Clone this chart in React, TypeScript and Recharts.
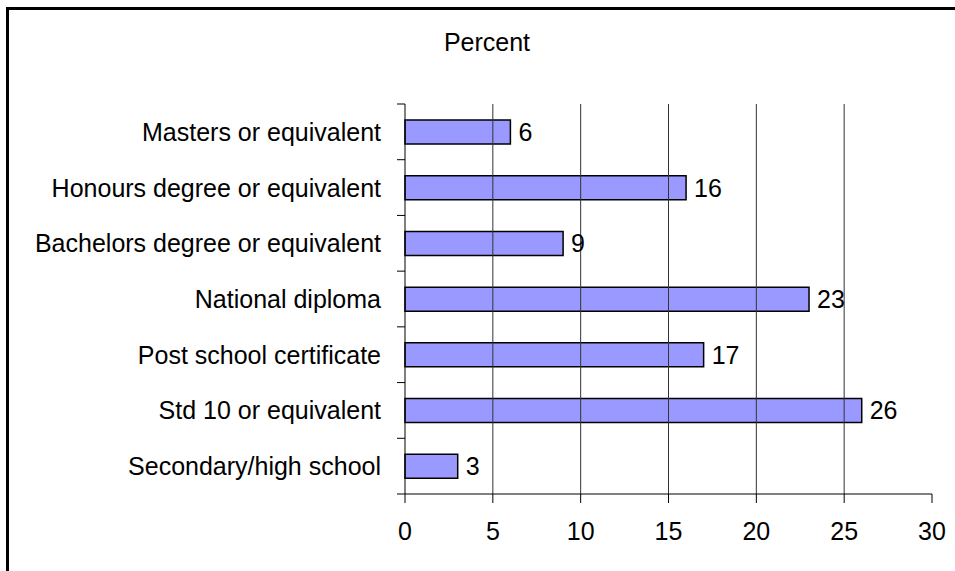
import { Bar, BarChart, LabelList, ReferenceLine, XAxis, YAxis } from "recharts";

const categories = [
  "Masters or equivalent",
  "Honours degree or equivalent",
  "Bachelors degree or equivalent",
  "National diploma",
  "Post school certificate",
  "Std 10 or equivalent",
  "Secondary/high school",
];
const percents = [6, 16, 9, 23, 17, 26, 3];
const xTicks = [0, 5, 10, 15, 20, 25, 30];
const gridTicks = [5, 10, 15, 20, 25];

const data = categories.map((name, i) => ({ name, value: percents[i] }));

const font = "'Liberation Sans', Arial, sans-serif";

function CategoryTick(props: any) {
  const { x, y, payload, index } = props;
  const half = payload?.offset || 27.86;
  const last = index === categories.length - 1;
  return (
    <g>
      <text x={x - 24} y={y} textAnchor="end" dominantBaseline="central" fontSize={25} fill="#000" fontFamily={font}>
        {payload.value}
      </text>
      <line x1={x - 8} x2={x} y1={y - half} y2={y - half} stroke="#000" strokeWidth={1} />
      {last && <line x1={x - 8} x2={x} y1={y + half} y2={y + half} stroke="#000" strokeWidth={1} />}
    </g>
  );
}

export default function App() {
  return (
    <div style={{ position: "fixed", inset: 0, overflow: "hidden", background: "#fff", fontFamily: font }}>
      <div style={{ position: "absolute", left: 6, top: 7, width: 1000, height: 700, border: "3px solid #000" }} />
      <div style={{ position: "absolute", left: 387, top: 30, width: 200, textAlign: "center", fontSize: 25, lineHeight: "25px", color: "#000" }}>
        Percent
      </div>
      <div style={{ position: "absolute", left: 0, top: 0 }}>
        <BarChart width={955} height={571} data={data} layout="vertical" margin={{ top: 104, right: 23, bottom: 17, left: 0 }} barSize={24}>
          <XAxis
            type="number"
            domain={[0, 30]}
            ticks={xTicks}
            interval={0}
            height={60}
            axisLine={{ stroke: "#000", strokeWidth: 1 }}
            tickLine={{ stroke: "#000", strokeWidth: 1 }}
            tickSize={9}
            tickMargin={19}
            tick={{ fontSize: 25, fill: "#000", fontFamily: font }}
          />
          <YAxis
            type="category"
            dataKey="name"
            width={405}
            interval={0}
            axisLine={{ stroke: "#000", strokeWidth: 1 }}
            tickLine={false}
            tickSize={0}
            tickMargin={0}
            tick={<CategoryTick />}
          />
          {gridTicks.map((v) => (
            <ReferenceLine key={v} x={v} stroke="#333" strokeWidth={1} />
          ))}
          <Bar dataKey="value" fill="#9999FF" stroke="#000" strokeWidth={1.5} isAnimationActive={false}>
            <LabelList dataKey="value" position="right" offset={8} fontSize={25} fill="#000" fontFamily={font} />
          </Bar>
        </BarChart>
      </div>
    </div>
  );
}
